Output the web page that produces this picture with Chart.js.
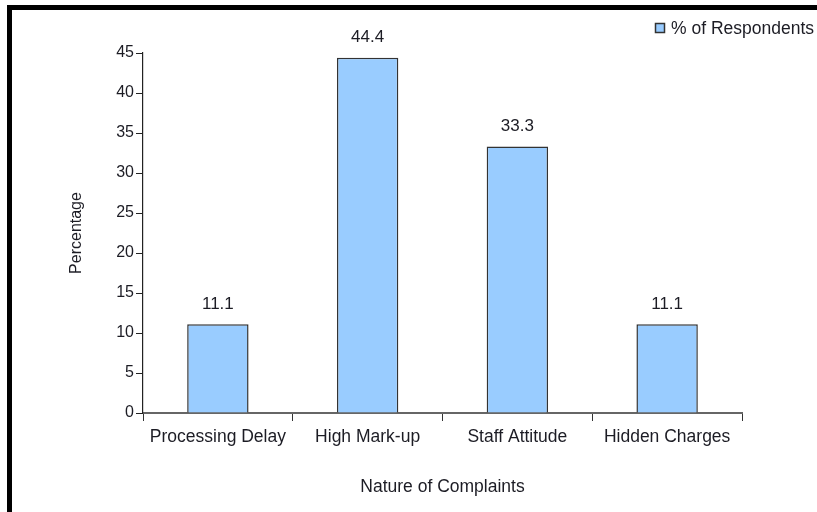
<!DOCTYPE html>
<html>
<head>
<meta charset="utf-8">
<script src="https://cdn.jsdelivr.net/npm/chart.js@4/dist/chart.umd.min.js"></script>
<style>
  html, body { margin: 0; padding: 0; background: #fff; }
  #wrap { width: 817px; height: 512px; position: relative; }
</style>
</head>
<body>
<div id="wrap"><canvas id="chart"></canvas></div>
<script>
const categories  = ['Processing Delay', 'High Mark-up', 'Staff Attitude', 'Hidden Charges'];
const respondents = [11.1, 44.4, 33.3, 11.1];
const seriesName  = '% of Respondents';

const FONT    = '"Liberation Sans", Arial, sans-serif';
const TEXT    = '#1c1c24';
const BAR     = '#99ccff';
const BAR_EDGE = '#333333';

// thick black frame on the top and left edges
const framePlugin = {
  id: 'frame',
  beforeDraw(chart) {
    const c = chart.ctx;
    c.save();
    c.fillStyle = '#fff';
    c.fillRect(0, 0, chart.width, chart.height);
    c.strokeStyle = '#000';
    c.lineWidth = 5;
    c.strokeRect(9.5, 7.5, chart.width + 20, chart.height + 20);
    c.restore();
  },
};

// value labels above each bar
const valueLabels = {
  id: 'valueLabels',
  afterDatasetsDraw(chart) {
    const c = chart.ctx;
    const meta = chart.getDatasetMeta(0);
    c.save();
    c.font = '17px ' + FONT;
    c.fillStyle = TEXT;
    c.textAlign = 'center';
    c.textBaseline = 'middle';
    meta.data.forEach((bar, i) => {
      c.fillText(respondents[i].toFixed(1), bar.x, bar.y - 20);
    });
    c.restore();
  },
};

// legend in the top-right corner
const cornerLegend = {
  id: 'cornerLegend',
  afterDraw(chart) {
    const c = chart.ctx;
    const ds = chart.data.datasets[0];
    c.save();
    c.fillStyle = ds.backgroundColor;
    c.fillRect(655, 23, 9, 10);
    c.strokeStyle = BAR_EDGE;
    c.lineWidth = 1.5;
    c.strokeRect(655.5, 23.5, 9, 9);
    c.font = '17.5px ' + FONT;
    c.fillStyle = TEXT;
    c.textAlign = 'left';
    c.textBaseline = 'middle';
    c.fillText(ds.label, 671, 29);
    c.restore();
  },
};

new Chart(document.getElementById('chart'), {
  type: 'bar',
  data: {
    labels: categories,
    datasets: [{
      label: seriesName,
      data: respondents,
      backgroundColor: BAR,
      borderColor: BAR_EDGE,
      borderWidth: 1.5,
      barPercentage: 0.41,
      categoryPercentage: 1,
    }],
  },
  options: {
    responsive: true,
    maintainAspectRatio: false,
    animation: false,
    layout: { padding: { left: 63, top: 53, right: 75, bottom: 10 } },
    scales: {
      x: {
        afterFit: s => { s.height = 89; },
        grid: {
          offset: true,
          drawOnChartArea: false,
          drawTicks: true,
          tickLength: 8,
          color: '#333',
        },
        border: { color: '#666', width: 2 },
        ticks: { color: TEXT, font: { family: FONT, size: 17.5 }, padding: 6 },
        title: {
          display: true,
          text: 'Nature of Complaints',
          color: TEXT,
          font: { family: FONT, size: 17.5 },
        },
      },
      y: {
        min: 0,
        max: 45,
        afterFit: s => { s.width = 80; },
        grid: {
          drawOnChartArea: false,
          drawTicks: true,
          tickLength: 7,
          color: '#222',
        },
        border: { color: '#222', width: 1.2 },
        ticks: { stepSize: 5, color: TEXT, font: { family: FONT, size: 16 }, padding: 2 },
        title: {
          display: true,
          text: 'Percentage',
          color: TEXT,
          font: { family: FONT, size: 16 },
        },
      },
    },
    plugins: {
      legend: { display: false },
      tooltip: { enabled: false },
    },
  },
  plugins: [framePlugin, valueLabels, cornerLegend],
});
</script>
</body>
</html>
